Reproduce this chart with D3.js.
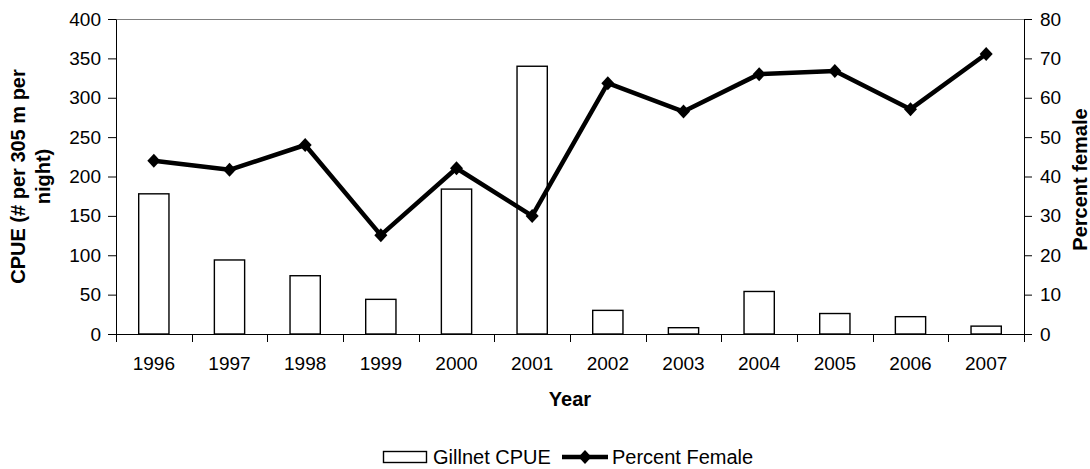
<!DOCTYPE html>
<html lang="en">
<head>
  <meta charset="utf-8">
  <title>Gillnet CPUE and Percent Female</title>
  <script src="https://d3js.org/d3.v7.min.js"></script>
  <style>
    body { margin: 0; background: #fff; }
    svg text { font-family: "Liberation Sans", Arial, sans-serif; fill: #000; }
  </style>
</head>
<body>
  <div id="chart"></div>
  <script>
    // values
    var years = ["1996", "1997", "1998", "1999", "2000", "2001", "2002", "2003", "2004", "2005", "2006", "2007"];
    var cpue = [178, 94, 74, 44, 184, 340, 30, 8, 54, 26, 22, 10];
    var pctFemale = [44, 41.7, 48, 25.1, 42.1, 30, 63.7, 56.5, 66, 66.8, 57.1, 71.1];
    var leftTicks = [0, 50, 100, 150, 200, 250, 300, 350, 400];
    var rightTicks = [0, 10, 20, 30, 40, 50, 60, 70, 80];

    var width = 1090, height = 469;
    var margin = { top: 19, right: 66, bottom: 135, left: 116 };
    var x0 = margin.left, x1 = width - margin.right;
    var y0 = height - margin.bottom, y1 = margin.top;

    var svg = d3.select("#chart").append("svg")
      .attr("width", width)
      .attr("height", height);

    var x = d3.scaleBand().domain(years).range([x0, x1]).padding(0);
    var yL = d3.scaleLinear().domain([0, 400]).range([y0, y1]);
    var yR = d3.scaleLinear().domain([0, 80]).range([y0, y1]);

    // top border of the plot area
    svg.append("line")
      .attr("x1", x0).attr("x2", x1)
      .attr("y1", y1 + 0.5).attr("y2", y1 + 0.5)
      .attr("stroke", "#808080").attr("stroke-width", 1);

    // bars
    var bw = x.bandwidth() * 0.4;
    svg.selectAll(".bar")
      .data(cpue)
      .enter().append("rect")
      .attr("class", "bar")
      .attr("x", function (d, i) { return x(years[i]) + (x.bandwidth() - bw) / 2; })
      .attr("y", function (d) { return yL(d); })
      .attr("width", bw)
      .attr("height", function (d) { return yL(0) - yL(d); })
      .attr("fill", "#fff")
      .attr("stroke", "#000")
      .attr("stroke-width", 1.4);

    // left axis
    var axL = svg.append("g")
      .attr("transform", "translate(" + x0 + ",0)")
      .call(d3.axisLeft(yL).tickValues(leftTicks).tickSize(8).tickPadding(7).tickSizeOuter(0));
    // right axis
    var axR = svg.append("g")
      .attr("transform", "translate(" + x1 + ",0)")
      .call(d3.axisRight(yR).tickValues(rightTicks).tickSize(8).tickPadding(8).tickSizeOuter(0));
    [axL, axR].forEach(function (ax) {
      ax.select(".domain").attr("stroke", "#000");
      ax.selectAll(".tick line").attr("stroke", "#000");
      ax.selectAll("text").style("font-size", "19px").attr("fill", "#000");
    });

    // bottom axis: line, ticks at category boundaries, labels centred
    var axB = svg.append("g");
    axB.append("line")
      .attr("x1", x0).attr("x2", x1)
      .attr("y1", y0 + 0.5).attr("y2", y0 + 0.5)
      .attr("stroke", "#000");
    var bounds = years.map(function (d) { return x(d); }).concat([x1]);
    axB.selectAll(".xt")
      .data(bounds)
      .enter().append("line")
      .attr("x1", function (d) { return Math.round(d) + 0.5; })
      .attr("x2", function (d) { return Math.round(d) + 0.5; })
      .attr("y1", y0)
      .attr("y2", y0 + 8)
      .attr("stroke", "#000");
    axB.selectAll(".xl")
      .data(years)
      .enter().append("text")
      .attr("x", function (d) { return x(d) + x.bandwidth() / 2; })
      .attr("y", y0 + 36)
      .attr("text-anchor", "middle")
      .style("font-size", "19px")
      .text(function (d) { return d; });

    // line series
    var line = d3.line()
      .x(function (d, i) { return x(years[i]) + x.bandwidth() / 2; })
      .y(function (d) { return yR(d); });
    svg.append("path")
      .datum(pctFemale)
      .attr("d", line)
      .attr("fill", "none")
      .attr("stroke", "#000")
      .attr("stroke-width", 4.5)
      .attr("stroke-linejoin", "round");

    var diamond = "M0,-7L6.5,0L0,7L-6.5,0Z";
    svg.selectAll(".mk")
      .data(pctFemale)
      .enter().append("path")
      .attr("class", "mk")
      .attr("d", diamond)
      .attr("transform", function (d, i) {
        return "translate(" + (x(years[i]) + x.bandwidth() / 2) + "," + yR(d) + ")";
      })
      .attr("fill", "#000");

    // axis titles
    var midY = (y0 + y1) / 2;
    var lt = svg.append("text")
      .attr("transform", "translate(25," + midY + ") rotate(-90)")
      .attr("text-anchor", "middle")
      .style("font-size", "20px")
      .style("font-weight", "bold");
    lt.append("tspan").attr("x", 0).attr("dy", 0).text("CPUE (# per 305 m per");
    lt.append("tspan").attr("x", 0).attr("dy", 25).text("night)");

    svg.append("text")
      .attr("transform", "translate(1087," + (midY + 3) + ") rotate(-90)")
      .attr("text-anchor", "middle")
      .style("font-size", "20px")
      .style("font-weight", "bold")
      .text("Percent female");

    svg.append("text")
      .attr("x", (x0 + x1) / 2)
      .attr("y", 406)
      .attr("text-anchor", "middle")
      .style("font-size", "20px")
      .style("font-weight", "bold")
      .text("Year");

    // legend
    var lg = svg.append("g").attr("transform", "translate(0,457)");
    lg.append("rect")
      .attr("x", 383.5).attr("y", -5.5)
      .attr("width", 43).attr("height", 11)
      .attr("fill", "#fff").attr("stroke", "#000").attr("stroke-width", 1.4);
    lg.append("text").attr("x", 433).attr("y", 7)
      .style("font-size", "20px").text("Gillnet CPUE");
    lg.append("line")
      .attr("x1", 562).attr("x2", 608)
      .attr("y1", 0).attr("y2", 0)
      .attr("stroke", "#000").attr("stroke-width", 4.5);
    lg.append("path").attr("d", diamond)
      .attr("transform", "translate(585,0)").attr("fill", "#000");
    lg.append("text").attr("x", 612).attr("y", 7)
      .style("font-size", "20px").text("Percent Female");
  </script>
</body>
</html>
